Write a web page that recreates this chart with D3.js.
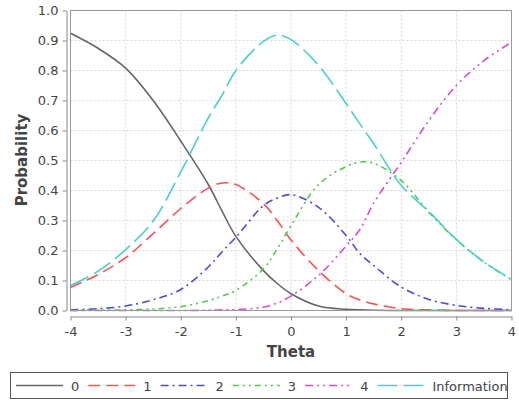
<!DOCTYPE html>
<html>
<head>
<meta charset="utf-8">
<script src="https://cdn.jsdelivr.net/npm/d3@7"></script>
<style>
  body { margin: 0; background: white; }
  svg text { font-family: 'DejaVu Sans', sans-serif; }
</style>
</head>
<body>
<svg id="chart" width="519" height="400"></svg>
<script>
// datos
const theta = [-4, -3.5, -3, -2.5, -2, -1.5, -1.25, -1, -0.5, -0.25, 0, 0.5, 1, 1.25, 1.5, 2, 2.5, 3, 3.5, 4]
const p0   = [0.924, 0.874, 0.808, 0.70, 0.565, 0.42, 0.331, 0.247, 0.133, 0.09, 0.056, 0.015, 0.004, 0.002, 0.001, 0, 0, 0, 0, 0]
const p1   = [0.077, 0.12, 0.176, 0.256, 0.34, 0.408, 0.425, 0.42, 0.356, 0.30, 0.235, 0.133, 0.056, 0.035, 0.022, 0.006, 0.002, 0, 0, 0]
const p2   = [0.002, 0.006, 0.015, 0.036, 0.07, 0.145, 0.196, 0.244, 0.35, 0.375, 0.386, 0.344, 0.25, 0.19, 0.15, 0.078, 0.037, 0.017, 0.007, 0.003]
const p3   = [0, 0.001, 0.002, 0.005, 0.013, 0.033, 0.048, 0.067, 0.139, 0.205, 0.283, 0.42, 0.48, 0.495, 0.491, 0.433, 0.328, 0.236, 0.161, 0.103]
const p4   = [0, 0, 0, 0, 0, 0.001, 0.002, 0.003, 0.011, 0.025, 0.048, 0.117, 0.215, 0.27, 0.358, 0.494, 0.633, 0.75, 0.833, 0.894]
const info = [0.083, 0.131, 0.203, 0.298, 0.462, 0.642, 0.718, 0.80, 0.897, 0.918, 0.903, 0.817, 0.69, 0.622, 0.556, 0.417, 0.33, 0.237, 0.162, 0.104]

const seriesNames = ['0', '1', '2', '3', '4', 'Information']
const seriesValues = [p0, p1, p2, p3, p4, info]
const colors = ['#666666', '#ff5050', '#4a4ae0', '#4ccc4c', '#d050d8', '#48cfd0']
const dashes = ['none', '12,6', '8,4,2,4', '6,4,2,4,2,4', '8,4,2,4,2,4', '20,6']

const svg = d3.select('#chart')

const x = d3.scaleLinear().domain([-4, 4]).range([70.5, 511.5])
const y = d3.scaleLinear().domain([0, 1]).range([310.5, 10.5])

// Grid
const g = svg.append('g')
g.selectAll('.gx').data(x.ticks(8)).enter().append('line')
    .attr('x1', d => x(d)).attr('x2', d => x(d))
    .attr('y1', 10.5).attr('y2', 310.5)
    .attr('stroke', '#d8d8d8').attr('stroke-dasharray', '2,2')
g.selectAll('.gy').data(y.ticks(10)).enter().append('line')
    .attr('y1', d => y(d)).attr('y2', d => y(d))
    .attr('x1', 70.5).attr('x2', 511.5)
    .attr('stroke', '#d8d8d8').attr('stroke-dasharray', '2,2')

// Curvas
const line = d3.line()
    .x((d, i) => x(theta[i]))
    .y(d => y(d))
    .curve(d3.curveCatmullRom)

seriesValues.forEach((vals, k) => {
  g.append('path')
      .attr('d', line(vals))
      .attr('fill', 'none')
      .attr('stroke', colors[k])
      .attr('stroke-width', 1.6)
      .attr('stroke-dasharray', dashes[k])
})

// Borde del area
svg.append('rect')
    .attr('x', 70.5).attr('y', 10.5)
    .attr('width', 441).attr('height', 300)
    .attr('fill', 'none').attr('stroke', '#999')

// Ejes
const styleAxis = sel => {
  sel.selectAll('path').attr('stroke', '#888')
  sel.selectAll('line').attr('stroke', '#888')
  sel.selectAll('text').attr('fill', '#444').style('font-size', '13px')
      .style('font-family', "'DejaVu Sans', sans-serif")
}

svg.append('g')
    .attr('transform', 'translate(66.5,0)')
    .call(d3.axisLeft(y).ticks(10).tickFormat(d => d.toFixed(1)).tickSize(4).tickSizeOuter(0).tickPadding(4))
    .call(styleAxis)

svg.append('g')
    .attr('transform', 'translate(0,316.5)')
    .call(d3.axisBottom(x).ticks(8).tickFormat(d => String(d)).tickSize(4).tickSizeOuter(0).tickPadding(6))
    .call(styleAxis)

svg.append('text')
    .attr('x', 291).attr('y', 357)
    .attr('text-anchor', 'middle')
    .attr('font-weight', 'bold').attr('font-size', 15)
    .attr('fill', '#444')
    .text('Theta')

svg.append('text')
    .attr('transform', 'translate(27,160) rotate(-90)')
    .attr('text-anchor', 'middle')
    .attr('font-weight', 'bold').attr('font-size', 15)
    .attr('fill', '#444')
    .text('Probability')

// Leyenda
svg.append('rect')
    .attr('x', 10.5).attr('y', 372.5)
    .attr('width', 497).attr('height', 26)
    .attr('fill', 'white').attr('stroke', '#555')

let lx = 16
seriesNames.forEach((name, k) => {
  svg.append('line')
      .attr('x1', lx).attr('x2', lx + 47)
      .attr('y1', 385.5).attr('y2', 385.5)
      .attr('stroke', colors[k]).attr('stroke-width', 1.6)
      .attr('stroke-dasharray', dashes[k])
  const t = svg.append('text')
      .attr('x', lx + 55).attr('y', 390.5)
      .attr('font-size', 13).attr('fill', '#444')
      .text(name)
  lx = lx + 55 + t.node().getComputedTextLength() + 9
})
</script>
</body>
</html>
